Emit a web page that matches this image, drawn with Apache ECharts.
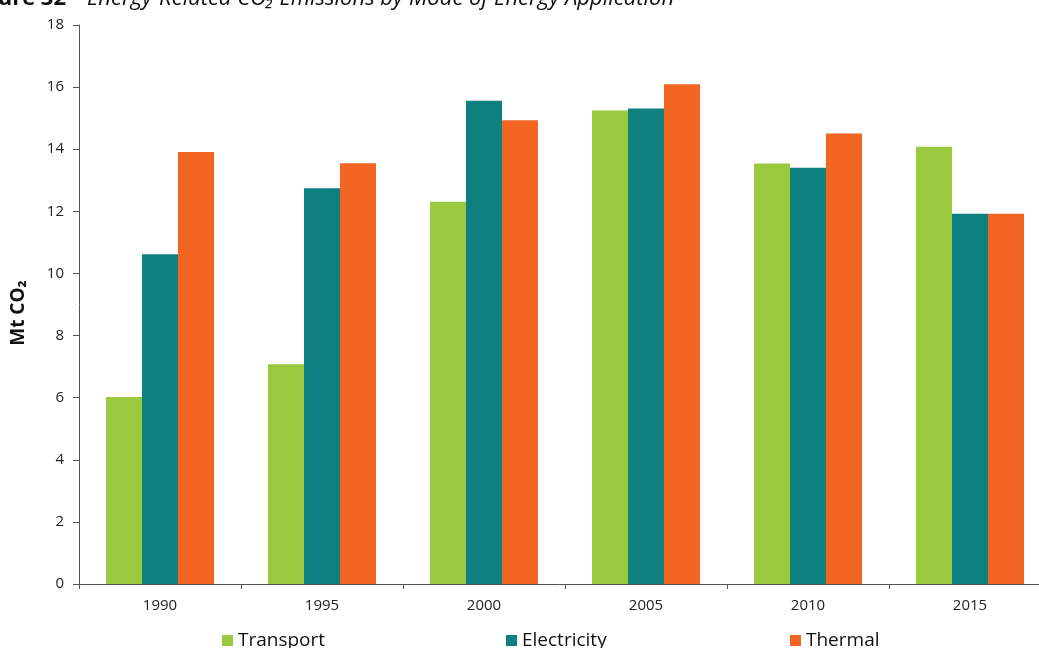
<!DOCTYPE html>
<html>
<head>
<meta charset="utf-8">
<script src="https://cdn.jsdelivr.net/npm/echarts@6/dist/echarts.min.js"></script>
<style>
html,body{margin:0;padding:0;background:#fff;}
#chart{width:1039px;height:648px;}
</style>
</head>
<body>
<div id="chart"></div>
<script>
var categories = ['1990', '1995', '2000', '2005', '2010', '2015'];
var transport = [6.02, 7.08, 12.31, 15.25, 13.54, 14.08];
var electricity = [10.62, 12.74, 15.56, 15.31, 13.40, 11.92];
var thermal = [13.91, 13.55, 14.93, 16.09, 14.51, 11.92];
var yTicks = [0, 2, 4, 6, 8, 10, 12, 14, 16, 18];
var seriesNames = ['Transport', 'Electricity', 'Thermal'];
var colors = ['#9BC93D', '#0E8080', '#F26522'];

var font = '"Open Sans", "Noto Sans", sans-serif';
var chart = echarts.init(document.getElementById('chart'), null, {renderer: 'canvas'});

function legendAt(name, left) {
  return {
    data: [name], left: left, top: 631, padding: 0,
    itemWidth: 11, itemHeight: 11, icon: 'rect',
    textStyle: {fontSize: 19, color: '#111', fontFamily: font}
  };
}

var option = {
  animation: false,
  backgroundColor: '#fff',
  textStyle: {fontFamily: font},
  graphic: [
    {type: 'text', x: 66, y: -1,
     style: {text: 'Figure 32', fontFamily: font, fontWeight: 'bold', fontSize: 22, fill: '#111', align: 'right', verticalAlign: 'middle'}},
    {type: 'text', x: 87, y: -1,
     style: {text: 'Energy-Related CO\u2082 Emissions by Mode of Energy Application', fontFamily: font, fontStyle: 'italic', fontSize: 22, fill: '#111', align: 'left', verticalAlign: 'middle'}},
    {type: 'text', x: 19, y: 313, rotation: Math.PI / 2,
     style: {text: 'Mt CO\u2082', fontFamily: font, fontWeight: 'bold', fontSize: 19, fill: '#111', align: 'center', verticalAlign: 'middle'}}
  ],
  legend: [
    legendAt(seriesNames[0], 222),
    legendAt(seriesNames[1], 506),
    legendAt(seriesNames[2], 790)
  ],
  grid: {left: 79, top: 25, width: 972, height: 559, containLabel: false, outerBoundsMode: 'none'},
  xAxis: {
    type: 'category',
    data: categories,
    axisLine: {lineStyle: {color: '#555', width: 1}},
    axisTick: {show: true, length: 5, lineStyle: {color: '#555'}},
    axisLabel: {fontSize: 15, color: '#222', margin: 14, fontFamily: font},
    splitLine: {show: false}
  },
  yAxis: {
    type: 'value',
    min: yTicks[0], max: yTicks[yTicks.length - 1], interval: 2,
    axisLine: {show: true, lineStyle: {color: '#555', width: 1}},
    axisTick: {show: true, length: 6, lineStyle: {color: '#555'}},
    axisLabel: {fontSize: 15, color: '#222', margin: 15, fontFamily: font},
    splitLine: {show: false}
  },
  series: [
    {name: seriesNames[0], type: 'bar', data: transport, itemStyle: {color: colors[0]}, barWidth: 36, barGap: '0%'},
    {name: seriesNames[1], type: 'bar', data: electricity, itemStyle: {color: colors[1]}, barWidth: 36, barGap: '0%'},
    {name: seriesNames[2], type: 'bar', data: thermal, itemStyle: {color: colors[2]}, barWidth: 36, barGap: '0%'}
  ]
};
chart.setOption(option);
</script>
</body>
</html>
